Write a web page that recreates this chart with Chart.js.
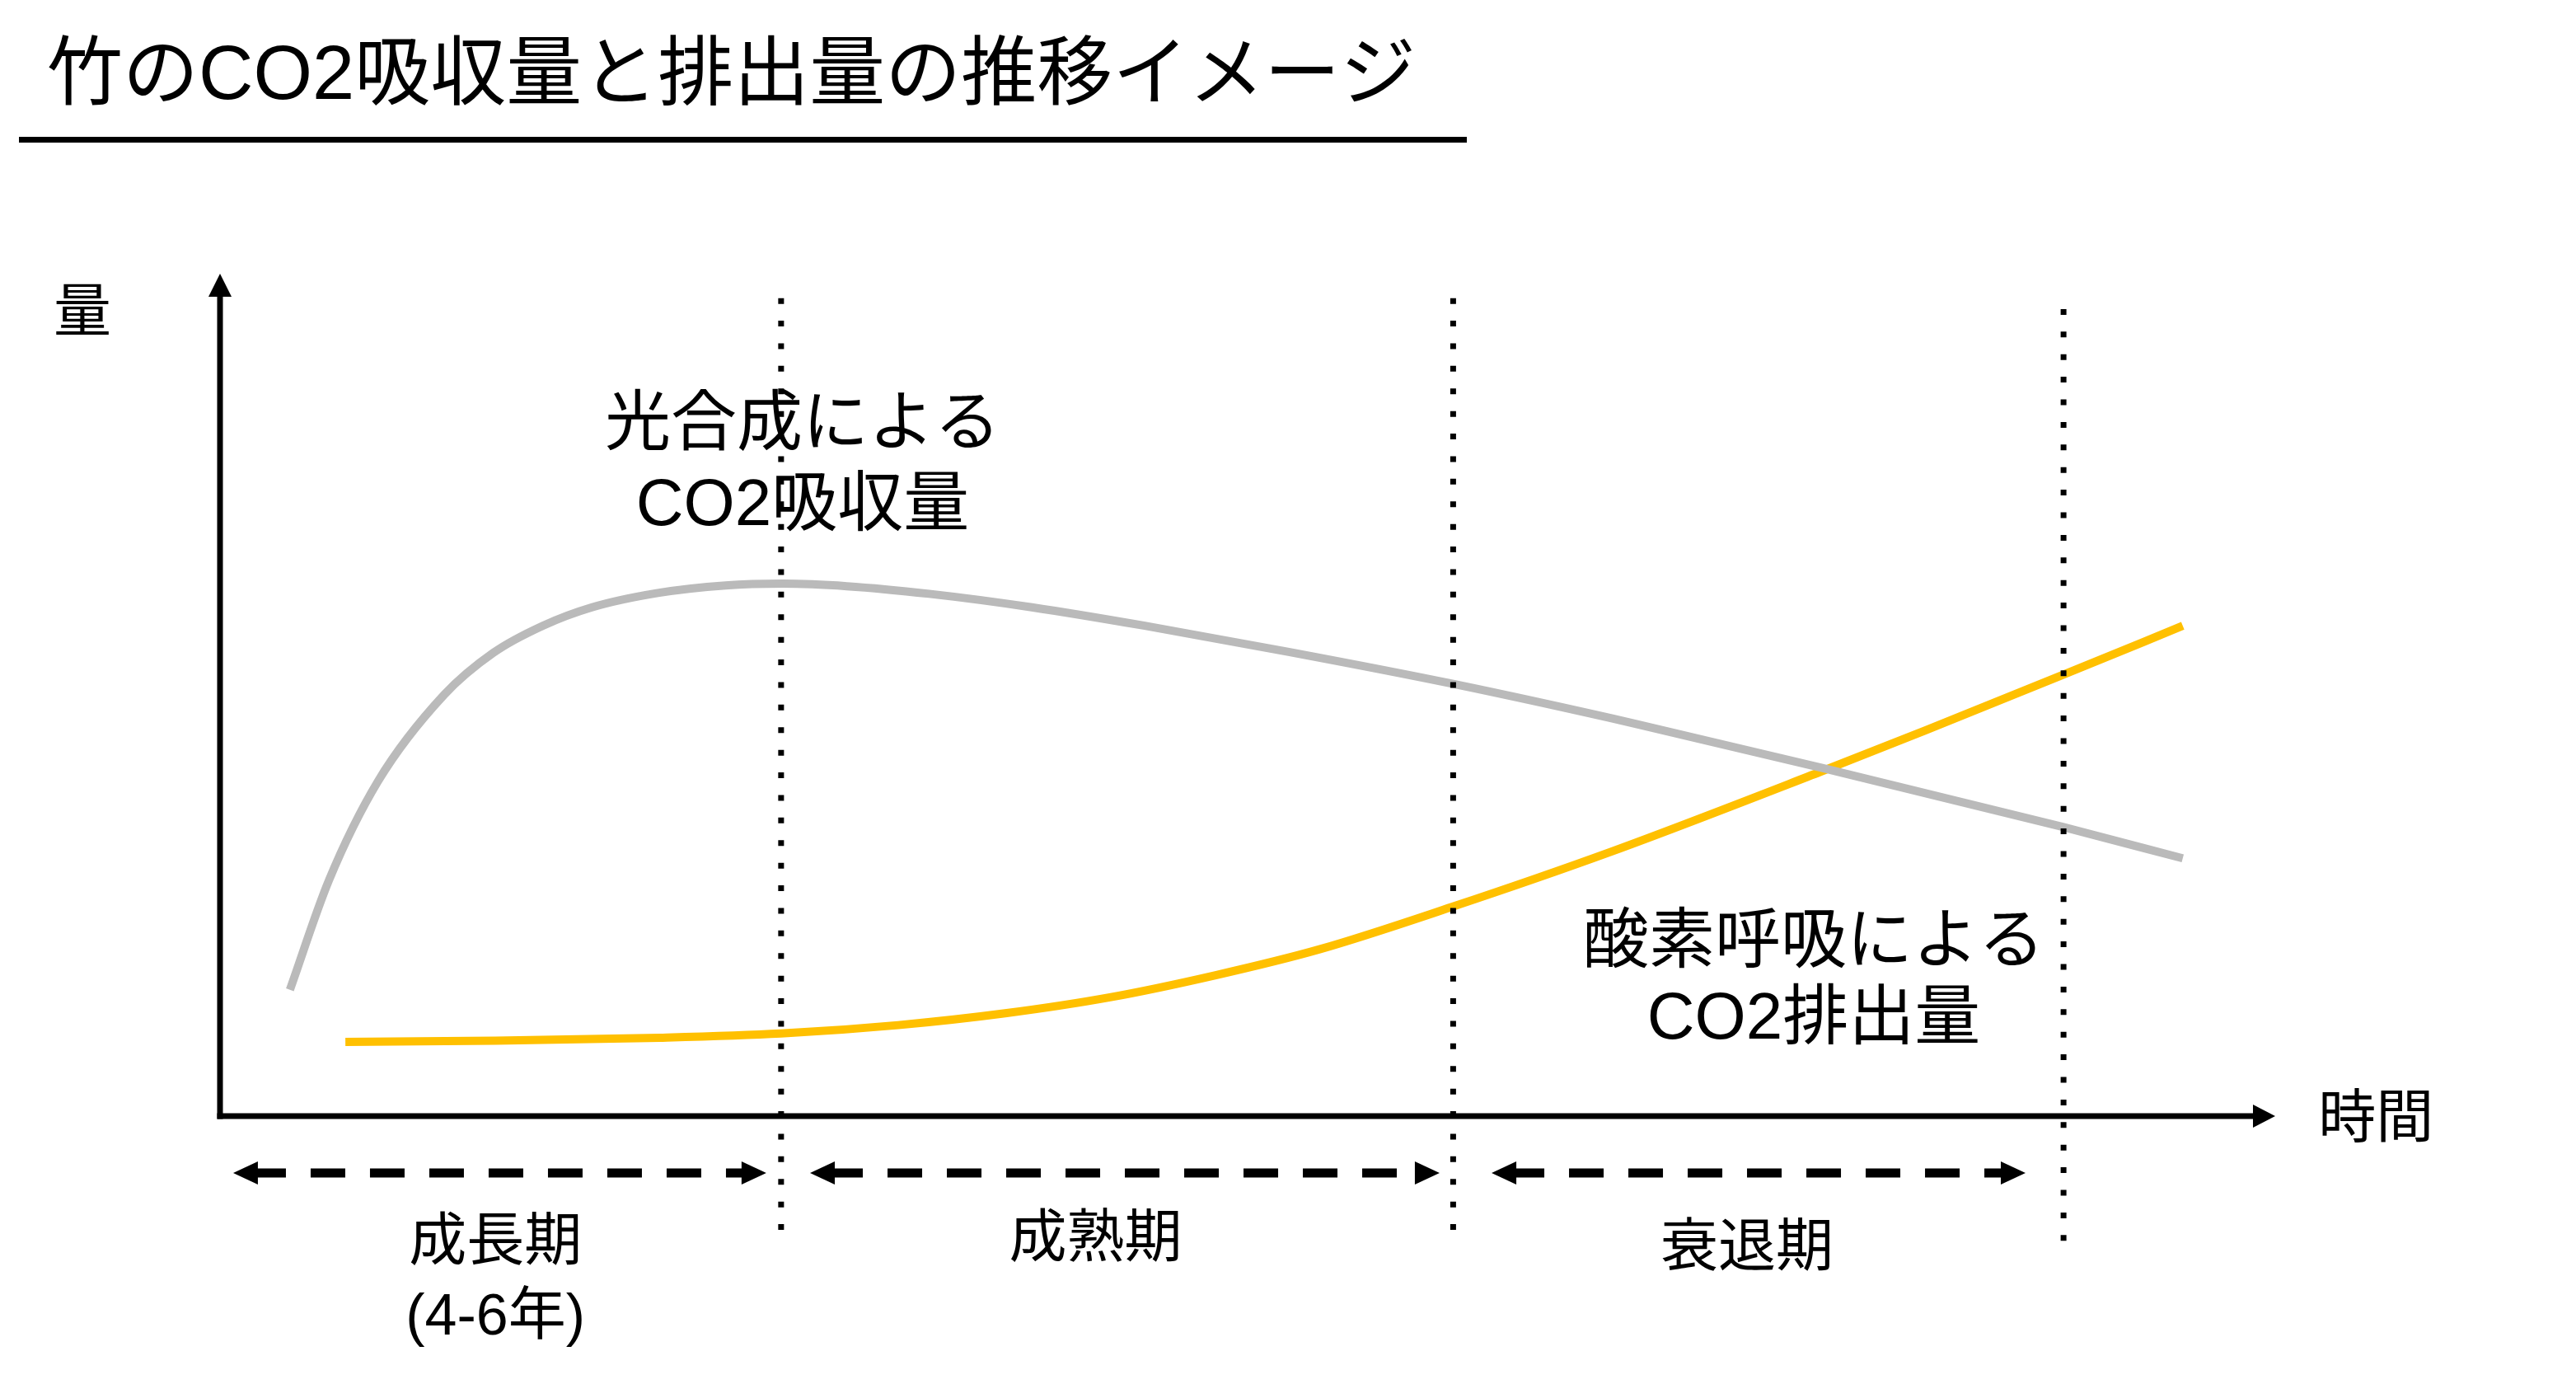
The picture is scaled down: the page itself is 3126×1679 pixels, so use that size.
<!DOCTYPE html>
<html>
<head>
<meta charset="utf-8">
<script src="https://cdn.jsdelivr.net/npm/chart.js@4.4.1/dist/chart.umd.min.js"></script>
<style>
  html, body { margin: 0; padding: 0; background: #ffffff; }
  #wrap { width: 3126px; height: 1679px; position: relative; }
  canvas { display: block; }
</style>
</head>
<body>
<div id="wrap"><canvas id="c" width="3126" height="1679"></canvas></div>
<script>
// ---- data (time and amount in arbitrary units, 0-100) ----
const chartTitle = "竹のCO2吸収量と排出量の推移イメージ";
const absorptionTime  = [3.4, 5.3, 7.7, 10.9, 13.3, 15.7, 18.1, 21.3, 24.6, 27.4, 30.5, 34.5, 39.5, 45.0, 52.0, 60.0, 69.0, 78.0, 89.7, 95.5];
const absorptionValue = [15.0, 28.0, 39.8, 50.0, 55.0, 58.2, 60.4, 62.1, 63.0, 63.2, 62.9, 62.0, 60.4, 58.2, 55.1, 51.3, 46.5, 41.3, 34.3, 30.6];
const emissionTime  = [6.1, 13.4, 21.4, 27.3, 33.0, 38.2, 43.3, 48.4, 53.5, 59.9, 67.7, 77.9, 83.0, 89.7, 95.5];
const emissionValue = [8.8, 8.95, 9.3, 9.8, 10.8, 12.2, 14.1, 16.7, 19.8, 24.8, 31.4, 40.9, 45.8, 52.4, 58.2];
const phaseBounds = [27.3, 60.0, 89.7];
const phaseArrows = [[0.64, 26.58], [28.71, 59.34], [61.87, 87.85]];
const phaseNames  = ["成長期\n(4-6年)", "成熟期", "衰退期"];
const seriesNames = ["光合成による\nCO2吸収量", "酸素呼吸による\nCO2排出量"];
const axisNames   = { x: "時間", y: "量" };

const FONT = '"Liberation Sans", "Noto Sans CJK JP", sans-serif';
const TEXT_SHIFT = 6;

const absorptionData = absorptionTime.map((t, i) => ({ x: t, y: absorptionValue[i] }));
const emissionData   = emissionTime.map((t, i) => ({ x: t, y: emissionValue[i] }));

function arrowHead(ctx, tipX, tipY, dirX, dirY, len, half) {
  const bx = tipX - dirX * len, by = tipY - dirY * len;
  const nx = -dirY, ny = dirX;
  ctx.beginPath();
  ctx.moveTo(tipX, tipY);
  ctx.lineTo(bx + nx * half, by + ny * half);
  ctx.lineTo(bx - nx * half, by - ny * half);
  ctx.closePath();
  ctx.fill();
}

function drawLines(ctx, text, x, y, size, lineGap) {
  ctx.font = size + 'px ' + FONT;
  ctx.textAlign = 'center';
  ctx.textBaseline = 'middle';
  const lines = text.split('\n');
  lines.forEach((l, i) => ctx.fillText(l, x, y + TEXT_SHIFT + i * lineGap));
}

const decor = {
  id: 'decor',
  afterDatasetsDraw(chart) {
    const ctx = chart.ctx;
    const sx = chart.scales.x, sy = chart.scales.y;
    const px = v => sx.getPixelForValue(v);
    const py = v => sy.getPixelForValue(v);
    ctx.save();
    ctx.fillStyle = '#000';
    ctx.strokeStyle = '#000';

    // title + underline
    ctx.font = '92px ' + FONT;
    ctx.textAlign = 'left';
    ctx.textBaseline = 'middle';
    ctx.fillText(chartTitle, 57, 95);
    ctx.fillRect(23, 166, 1757, 7);

    // axes
    ctx.lineWidth = 7;
    ctx.lineCap = 'butt';
    ctx.setLineDash([]);
    ctx.beginPath();
    ctx.moveTo(px(0), py(0) + 3.5);
    ctx.lineTo(px(0), py(100) + 24);
    ctx.stroke();
    arrowHead(ctx, px(0), py(100), 0, -1, 28, 14);
    ctx.beginPath();
    ctx.moveTo(px(0) - 3.5, py(0));
    ctx.lineTo(px(100) - 22, py(0));
    ctx.stroke();
    arrowHead(ctx, px(100), py(0), 1, 0, 27, 14);

    // phase boundaries (dotted)
    ctx.lineWidth = 7;
    ctx.setLineDash([7, 20.4]);
    const tops = [97.1, 97.1, 95.8], bottoms = [-14.0, -14.0, -15.0];
    phaseBounds.forEach((b, i) => {
      ctx.beginPath();
      ctx.moveTo(px(b), py(tops[i]));
      ctx.lineTo(px(b), py(bottoms[i]));
      ctx.stroke();
    });

    // phase dashed double arrows
    const arrowY = py(-6.75);
    phaseArrows.forEach(([a, b]) => {
      const x0 = px(a), x1 = px(b);
      ctx.lineWidth = 11;
      ctx.setLineDash([42, 30]);
      ctx.lineDashOffset = 6;
      ctx.beginPath();
      ctx.moveTo(x0 + 28, arrowY);
      ctx.lineTo(x1 - 28, arrowY);
      ctx.stroke();
      ctx.setLineDash([]);
      arrowHead(ctx, x0, arrowY, -1, 0, 30, 14);
      arrowHead(ctx, x1, arrowY, 1, 0, 30, 14);
    });

    // phase names
    const nameX = [13.4, 42.6, 74.3], nameY = [-14.6, -14.3, -15.3];
    phaseNames.forEach((n, i) => drawLines(ctx, n, px(nameX[i]), py(nameY[i]), 70, 90));

    // series labels
    drawLines(ctx, seriesNames[0], px(28.35), py(82.5), 80, 98);
    drawLines(ctx, seriesNames[1], px(77.55), py(21.0), 80, 93);

    // axis names
    drawLines(ctx, axisNames.x, px(104.9), py(-0.1), 70, 0);
    drawLines(ctx, axisNames.y, px(-6.7), py(95.6), 70, 0);

    ctx.restore();
  }
};

new Chart(document.getElementById('c'), {
  type: 'scatter',
  data: {
    datasets: [
      { label: 'absorption', data: absorptionData, showLine: true, borderColor: '#BABABA', borderWidth: 10,
        pointRadius: 0, cubicInterpolationMode: 'monotone', fill: false, clip: false },
      { label: 'emission', data: emissionData, showLine: true, borderColor: '#FFC000', borderWidth: 10,
        pointRadius: 0, cubicInterpolationMode: 'monotone', fill: false, clip: false }
    ]
  },
  options: {
    responsive: false,
    devicePixelRatio: 1,
    animation: false,
    layout: { padding: { left: 267, right: 365, top: 332, bottom: 325 } },
    scales: {
      x: { type: 'linear', min: 0, max: 100, display: false },
      y: { type: 'linear', min: 0, max: 100, display: false }
    },
    plugins: { legend: { display: false }, tooltip: { enabled: false }, title: { display: false } }
  },
  plugins: [decor]
});
</script>
</body>
</html>
